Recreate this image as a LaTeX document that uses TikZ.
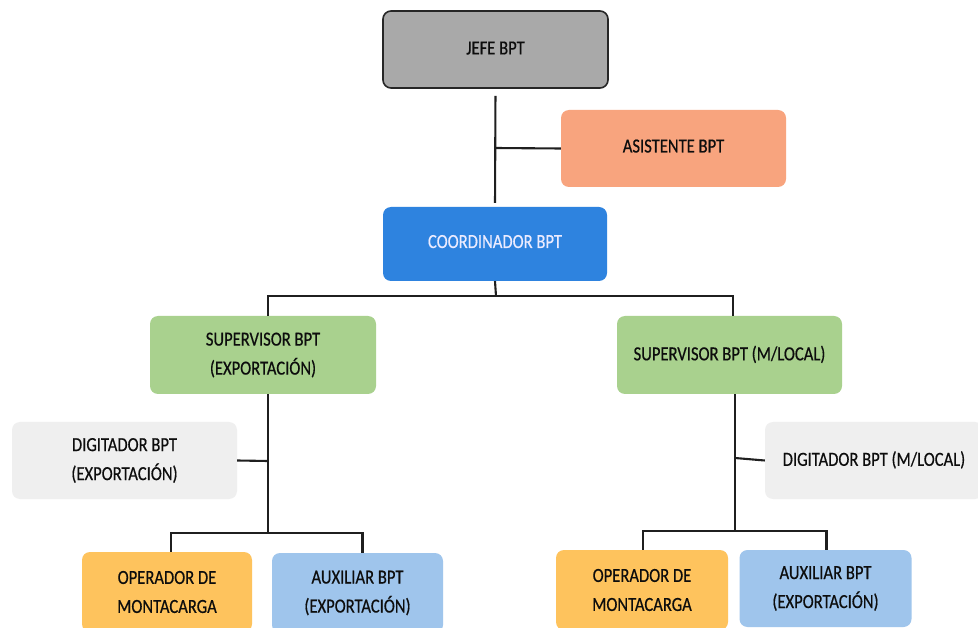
\documentclass[tikz,border=0pt]{standalone}
\usepackage{fontspec}
\setmainfont{Carlito}[FakeStretch=0.83,UprightFeatures={FakeBold=0.5}]
\begin{document}
\begin{tikzpicture}[x=1pt,y=-1pt,
  box/.style={rectangle, rounded corners=8pt, align=center, inner sep=2pt,
    font=\fontsize{20}{29}\selectfont, text=black!95},
  conn/.style={draw=black!88, line width=2.1pt}]
\definecolor{cjefe}{HTML}{A9A9A9}
\definecolor{casis}{HTML}{F8A47E}
\definecolor{ccoord}{HTML}{2E83DF}
\definecolor{csup}{HTML}{A9D18E}
\definecolor{cdig}{HTML}{EFEFEF}
\definecolor{cop}{HTML}{FEC35D}
\definecolor{caux}{HTML}{9FC5EC}
\useasboundingbox (0,0) rectangle (978,628);
\fill[white] (0,0) rectangle (978,628);
\clip (0,0) rectangle (978,628);

\node[box, fill=cjefe, draw=black!85, line width=1.6pt, minimum width=225pt, minimum height=77pt] (jefe) at (495.5,49.5) {\raisebox{3pt}{JEFE BPT}};
\node[box, fill=casis, minimum width=225pt, minimum height=77pt] (asis) at (673.5,148.5) {\raisebox{5pt}{ASISTENTE BPT}};
\node[box, fill=ccoord, text=white!92!blue, minimum width=224pt, minimum height=74pt] (coord) at (495,244) {\raisebox{5pt}{COORDINADOR BPT}};
\node[box, fill=csup, minimum width=226pt, minimum height=78pt] (supL) at (263,355) {SUPERVISOR BPT\\(EXPORTACIÓN)};
\node[box, fill=csup, minimum width=225pt, minimum height=78pt] (supR) at (729.5,355) {\raisebox{4pt}{SUPERVISOR BPT (M/LOCAL)}};
\node[box, fill=cdig, minimum width=225pt, minimum height=77pt] (digL) at (124.5,460.5) {DIGITADOR BPT\\(EXPORTACIÓN)};
\node[box, fill=cdig, minimum width=218pt, minimum height=77pt] (digR) at (874,460.5) {\raisebox{4pt}{DIGITADOR BPT (M/LOCAL)}};
\node[box, fill=cop, minimum width=170pt, minimum height=80pt] (opL) at (167,592) {OPERADOR DE\\MONTACARGA};
\node[box, fill=caux, minimum width=171pt, minimum height=80pt] (auxL) at (357.5,593) {AUXILIAR BPT\\(EXPORTACIÓN)};
\node[box, fill=cop, minimum width=172pt, minimum height=80pt] (opR) at (642,590) {OPERADOR DE\\MONTACARGA};
\node[box, fill=caux, minimum width=172pt, minimum height=77pt] (auxR) at (825.5,588.5) {AUXILIAR BPT\\(EXPORTACIÓN)};

% junctions
\coordinate (jA) at (495,148);
\coordinate (bus1) at (496,296);
\coordinate (vL) at (268,461);
\coordinate (busL) at (268,533);
\coordinate (vR) at (735,458);
\coordinate (busR) at (735,531);

\draw[conn, shorten <=7pt, shorten >=4pt] (jefe.south) -- (coord.north);
\draw[conn] (asis.west) -- (jA);
\draw[conn] (coord.south) -- (bus1);
\draw[conn] ([xshift=5pt]supL.north) |- (bus1) -| ([xshift=3.5pt]supR.north);
\draw[conn] ([xshift=5pt]supL.south) -- (busL);
\draw[conn] (digL.east) -- (vL);
\draw[conn] ([xshift=5.5pt]supR.south) -- (busR);
\draw[conn] (digR.west) -- (vR);
\draw[conn] ([xshift=4pt]opL.north) |- (busL) -| ([xshift=5pt]auxL.north);
\draw[conn] ([xshift=1pt]opR.north) |- (busR) -| ([xshift=1pt]auxR.north);
\end{tikzpicture}
\end{document}
